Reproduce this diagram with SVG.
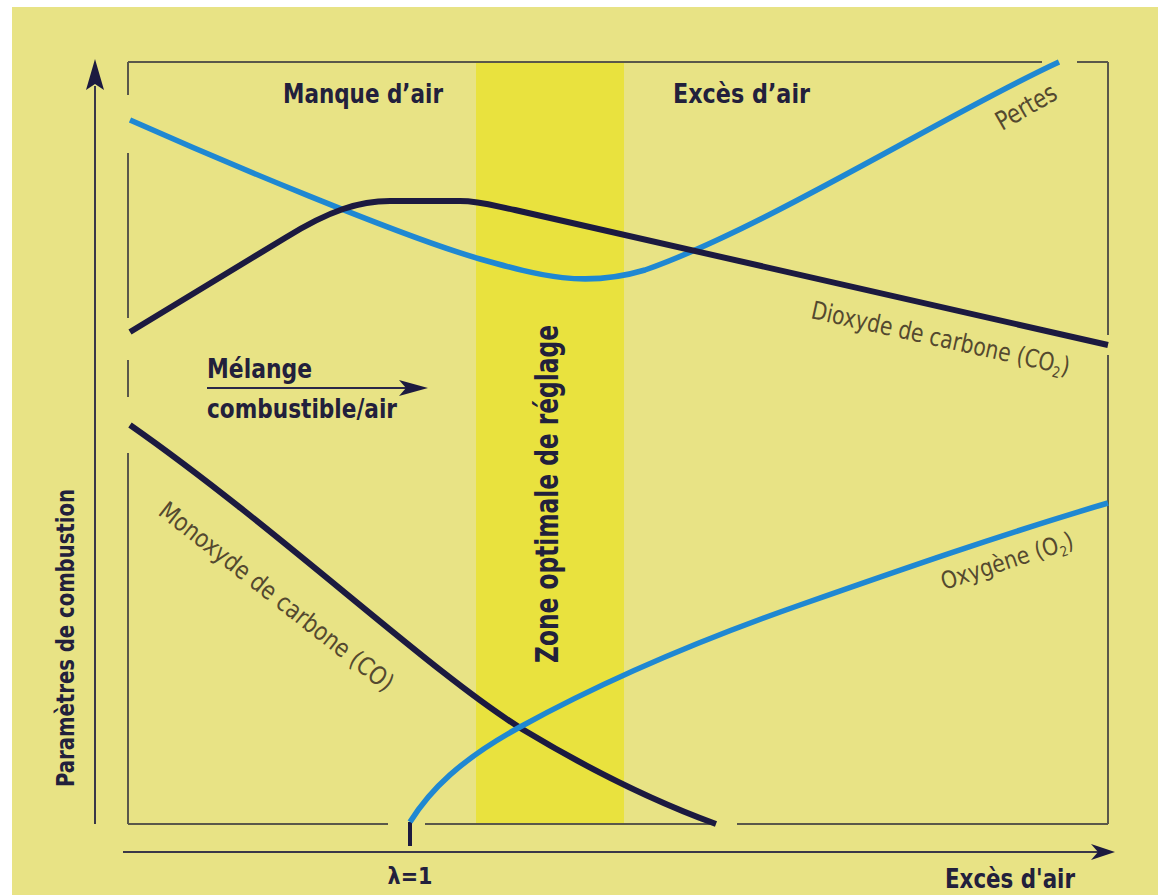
<svg xmlns="http://www.w3.org/2000/svg" width="1158" height="895" viewBox="0 0 1158 895">
<style>
.box{fill:none;stroke:#5a584a;stroke-width:2}
.axis{fill:none;stroke:#3a3848;stroke-width:2}
.navy{fill:none;stroke:#1c1a40;stroke-width:6;stroke-linecap:butt;stroke-linejoin:round}
.blue{fill:none;stroke:#1f88d2;stroke-width:5.5;stroke-linecap:butt;stroke-linejoin:round}
.head{fill:#1c1a40}
.bold{font-family:"Liberation Sans Narrow","DejaVu Sans Condensed","Liberation Sans",sans-serif;font-weight:bold;fill:#22203c}
.thin{font-family:"Liberation Sans Narrow","DejaVu Sans Condensed","Liberation Sans",sans-serif;font-weight:normal;fill:#54492f}
</style>
<rect x="0" y="0" width="1158" height="895" fill="#ffffff"/>
<rect x="12" y="7" width="1146" height="888" fill="#e8e385"/>
<rect id="zone-band" x="476" y="62" width="148" height="762" fill="#e9e23e"/>
<g id="frame">
<path class="box" d="M128,62 H1042 M1077,62 H1108 M128,62 V95 M128,153 V318 M128,360 V397 M128,453 V824 M1108,62 V335 M1108,355 V824 M128,824 H388 M425,824 H714 M737,824 H1108"/>
</g>
<g id="connectors">
<path class="axis" d="M95,86 V824"/>
<path class="head" d="M95,59 L104,90 L95,84 L86,90 Z"/>
<path class="axis" d="M123,852 H1098"/>
<path class="head" d="M1115,852 L1091,844 L1098,852 L1091,860 Z"/>
<path class="axis" d="M207,388 H410" style="stroke:#2a2848;stroke-width:2"/>
<path class="head" d="M428,388 L399,380 L406,388 L399,396 Z"/>
<path d="M410,822 V846" stroke="#1c1a40" stroke-width="4" fill="none"/>
</g>
<g id="curve-pertes">
<path class="blue" d="M130,120 C220,160 400,236 480,259 C540,276 585,288 645,270 C765,228 950,112 1059,62"/>
</g>
<g id="curve-co2">
<path class="navy" d="M130,332 L285,238 C330,210 360,201 390,201 L460,201 C480,201 495,206 515,210 L1108,345"/>
</g>
<g id="curve-co">
<path class="navy" d="M130,425 C280,530 430,672 522,729 C590,770 650,800 716,824"/>
</g>
<g id="curve-o2">
<path class="blue" d="M410,822 C430,790 460,760 520,727 C600,683 700,640 800,605 C900,570 1000,535 1108,503"/>
</g>
<g id="label-manque">
<text class="bold" x="283" y="103" font-size="27" textLength="160" lengthAdjust="spacingAndGlyphs">Manque d’air</text>
</g>
<g id="label-exces-top">
<text class="bold" x="673" y="103" font-size="27" textLength="137" lengthAdjust="spacingAndGlyphs">Excès d’air</text>
</g>
<g id="label-melange">
<text class="bold" x="207" y="378" font-size="26" textLength="105" lengthAdjust="spacingAndGlyphs">Mélange</text>
<text class="bold" x="207" y="418" font-size="26" textLength="190" lengthAdjust="spacingAndGlyphs">combustible/air</text>
</g>
<g id="label-zone">
<text class="bold" transform="translate(558,494) rotate(-90)" x="0" y="0" font-size="32" text-anchor="middle" textLength="338" lengthAdjust="spacingAndGlyphs">Zone optimale de réglage</text>
</g>
<g id="label-yaxis">
<text class="bold" transform="translate(74,638) rotate(-90)" x="0" y="0" font-size="25" text-anchor="middle" textLength="298" lengthAdjust="spacingAndGlyphs">Paramètres de combustion</text>
</g>
<g id="label-lambda">
<text class="bold" x="410" y="884" font-size="23" text-anchor="middle">λ=1</text>
</g>
<g id="label-exces-bottom">
<text class="bold" x="945" y="888" font-size="26" textLength="130" lengthAdjust="spacingAndGlyphs">Excès d'air</text>
</g>
<g id="label-pertes">
<text class="thin" transform="translate(1002,131) rotate(-30)" x="0" y="0" font-size="26" textLength="66" lengthAdjust="spacingAndGlyphs">Pertes</text>
</g>
<g id="label-co2">
<text class="thin" transform="translate(810,318) rotate(12.5)" x="0" y="0" font-size="25" textLength="264" lengthAdjust="spacingAndGlyphs">Dioxyde de carbone (CO<tspan font-size="15" dy="5">2</tspan><tspan dy="-5">)</tspan></text>
</g>
<g id="label-co">
<text class="thin" transform="translate(157,514) rotate(38)" x="0" y="0" font-size="25" textLength="290" lengthAdjust="spacingAndGlyphs">Monoxyde de carbone (CO)</text>
</g>
<g id="label-o2">
<text class="thin" transform="translate(944,590) rotate(-18)" x="0" y="0" font-size="24" textLength="138" lengthAdjust="spacingAndGlyphs">Oxygène (O<tspan font-size="14" dy="5">2</tspan><tspan dy="-5">)</tspan></text>
</g>
</svg>
